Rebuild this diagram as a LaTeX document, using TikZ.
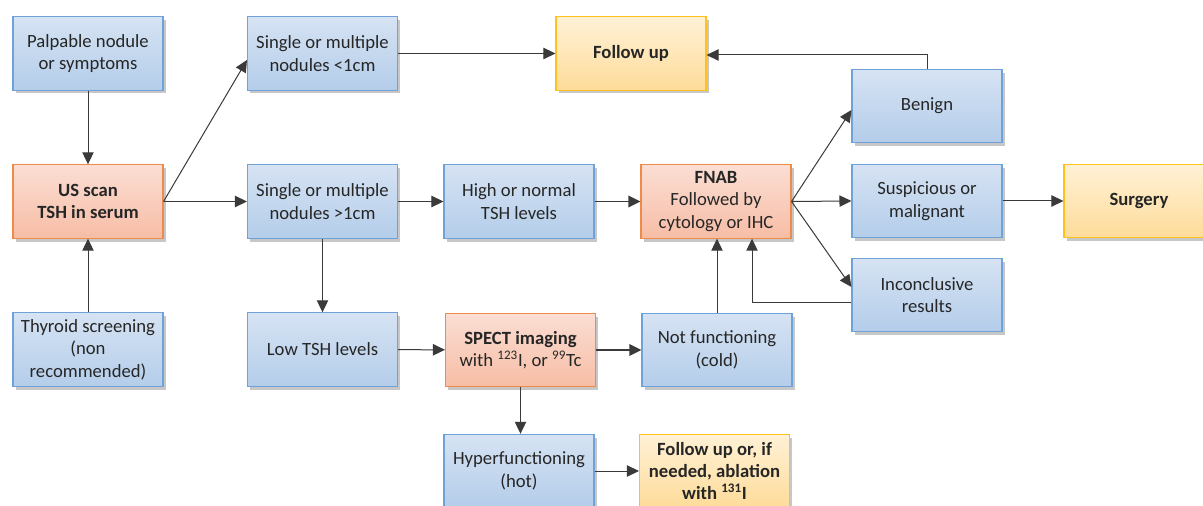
\documentclass[tikz,border=0pt]{standalone}
\usepackage{fontspec}
\setmainfont{Carlito}
\usetikzlibrary{shadows,arrows.meta,calc}
\definecolor{bluetop}{HTML}{D6E3F3}
\definecolor{bluebot}{HTML}{B4CDEA}
\definecolor{blueline}{HTML}{6FA2D9}
\definecolor{orgtop}{HTML}{FBDED4}
\definecolor{orgbot}{HTML}{F7BDA5}
\definecolor{orgline}{HTML}{F08A4B}
\definecolor{yeltop}{HTML}{FFF1D6}
\definecolor{yelbot}{HTML}{FEDC9A}
\definecolor{yelline}{HTML}{FFC21A}
\definecolor{txt}{HTML}{262626}
\definecolor{arr}{HTML}{3A3A3A}
\tikzset{
  box/.style={draw, line width=0.8pt, minimum width=112.5pt, minimum height=55pt,
    align=center, inner sep=2pt, font=\fontsize{14}{16.8}\selectfont, text=txt,
    drop shadow={shadow xshift=2pt, shadow yshift=-2.5pt, fill=black, opacity=0.22}},
  bluebox/.style={box, draw=blueline, top color=bluetop, bottom color=bluebot},
  orgbox/.style={box, draw=orgline, top color=orgtop, bottom color=orgbot},
  yelbox/.style={box, draw=yelline, top color=yeltop, bottom color=yelbot},
  arrow/.style={draw=arr, line width=0.75pt, -{Triangle[length=9pt,width=8.5pt]}},
  tarrow/.style={arrow, line width=1.3pt}
}
\begin{document}
\begin{tikzpicture}[x=0.75pt,y=-0.75pt]
\clip (0,0) rectangle (1203,506);
\fill[white] (0,0) rectangle (1203,506);
\node[bluebox] (palp) at (88,53.5) {Palpable nodule\\or symptoms};
\node[orgbox] (us) at (88,201.5) {\bfseries US scan\\\bfseries TSH in serum};
\node[bluebox] (thy) at (88,349.5) {Thyroid screening\\(non\\recommended)};
\node[bluebox] (s1) at (322.5,53.5) {Single or multiple\\nodules <1cm};
\node[bluebox] (s2) at (322.5,201.5) {Single or multiple\\nodules >1cm};
\node[bluebox] (low) at (322.5,349.5) {Low TSH levels};
\node[bluebox] (high) at (519,201.5) {High or normal\\TSH levels};
\node[orgbox] (fnab) at (716,201.5) {\textbf{FNAB}\\Followed by\\cytology or IHC};
\node[orgbox] (spect) at (520.5,350) {\textbf{SPECT imaging}\\with \textsuperscript{123}I, or \textsuperscript{99}Tc};
\node[bluebox] (notf) at (717,350) {Not functioning\\(cold)};
\node[bluebox] (hyper) at (519,471) {Hyperfunctioning\\(hot)};
\node[yelbox] (fu2) at (714.5,471) {\bfseries Follow up or, if\\\bfseries needed, ablation\\\bfseries with \textsuperscript{131}I};
\node[yelbox] (fu) at (631,53.5) {\bfseries Follow up};
\node[bluebox] (ben) at (927,106) {Benign};
\node[bluebox] (sus) at (927,201) {Suspicious or\\malignant};
\node[bluebox] (inc) at (927,295) {Inconclusive\\results};
\node[yelbox] (surg) at (1139,201) {\bfseries Surgery};

\draw[arrow] (palp) -- (us);
\draw[arrow] (thy) -- (us);
\draw[arrow] (us.east) -- ($(s1.west)+(0,6.5)$);
\draw[arrow] (us.east) -- (s2.west);
\draw[arrow] (s1) -- (fu);
\draw[arrow] (s2) -- (high);
\draw[arrow] (s2) -- (low);
\draw[tarrow] (high) -- (fnab);
\draw[arrow] (low) -- (spect);
\draw[tarrow] (spect) -- (notf);
\draw[arrow] (spect.south) -- (spect.south |- hyper.north);
\draw[arrow] (hyper) -- (fu2);
\draw[arrow] (notf.north) -- (notf.north |- fnab.south);
\draw[arrow] (fnab.east) -- ($(ben.west)+(0,4)$);
\draw[arrow] (fnab.east) -- (sus.west);
\draw[arrow] (fnab.east) -- ($(inc.west)+(0,-8)$);
\draw[arrow] ($(inc.west)+(0,7)$) -| ($(fnab.south)+(36,0)$);
\draw[arrow] (ben.north) |- ($(fu.east)+(0,1.5)$);
\draw[arrow] (sus) -- (surg);
\end{tikzpicture}
\end{document}
